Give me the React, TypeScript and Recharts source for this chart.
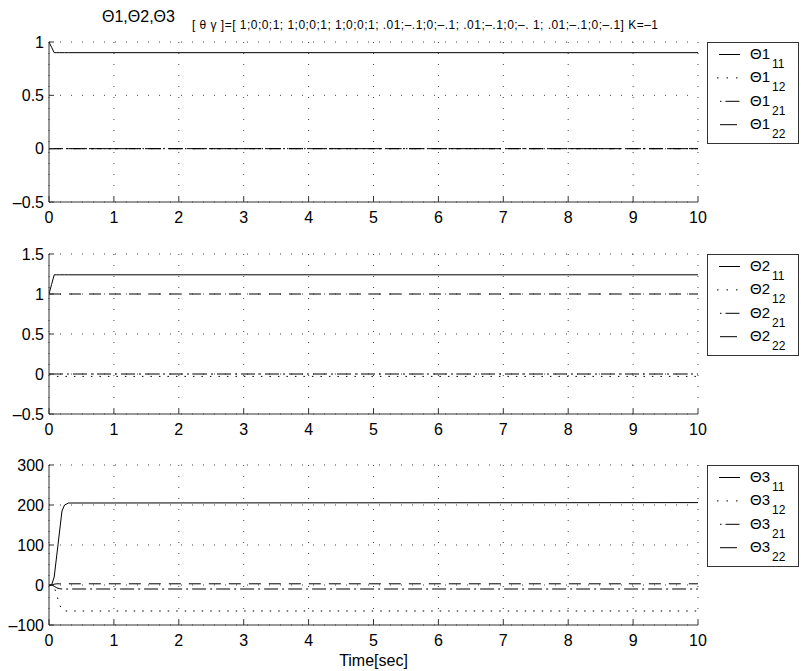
import { CartesianGrid, Legend, Line, LineChart, XAxis, YAxis } from 'recharts'

const FONT = '"Liberation Sans", Arial, sans-serif'

// sample times (s); everything is flat after the first ~0.3 s
const time = [0, 0.04, 0.08, 0.12, 0.16, 0.2, 0.24, 0.3, 10]
const xTicks = [0, 1, 2, 3, 4, 5, 6, 7, 8, 9, 10]

// Θ1
const theta1_11 = [1, 0.95, 0.9, 0.9, 0.9, 0.9, 0.9, 0.9, 0.9]
const theta1_12 = [0, 0, 0, 0, 0, 0, 0, 0, 0]
const theta1_21 = [0, 0, 0, 0, 0, 0, 0, 0, 0]
const theta1_22 = [0, 0, 0, 0, 0, 0, 0, 0, 0]
const theta1Ticks = [-0.5, 0, 0.5, 1]

// Θ2
const theta2_11 = [1, 1.12, 1.24, 1.24, 1.24, 1.24, 1.24, 1.24, 1.24]
const theta2_12 = [0, -0.02, -0.03, -0.03, -0.03, -0.03, -0.03, -0.03, -0.03]
const theta2_21 = [0, 0, 0, 0, 0, 0, 0, 0, 0]
const theta2_22 = [1, 1, 1, 1, 1, 1, 1, 1, 1]
const theta2Ticks = [-0.5, 0, 0.5, 1, 1.5]

// Θ3
const theta3_11 = [0, 0, 20, 75, 130, 185, 200, 205, 206]
const theta3_12 = [0, 0, -5, -25, -48, -62, -65, -65, -65]
const theta3_21 = [0, 0, -3, -7, -9, -10, -10, -10, -10]
const theta3_22 = [0, 0, 2, 3, 3, 3, 3, 3, 3]
const theta3Ticks = [-100, 0, 100, 200, 300]

const subKeys = ['11', '12', '21', '22']
const lineDash = [undefined, '1.5 7', '14 4 2 4', '12 8']
// legend samples: [x1, x2, dasharray]
const legendSample: [number, number, string | undefined][] = [
  [12, 33, undefined],
  [10, 32, '1.5 8'],
  [13, 33, '1.5 4 14 100'],
  [13, 30, '17 100'],
]

const fmt = (v: number) => (v < 0 ? '\u2013' + Math.abs(v) : String(v))
const blank = () => ''

function LegendBox({ name }: { name: string }) {
  return (
    <svg width={92} height={103} style={{ display: 'block', fontFamily: FONT }}>
      <rect x={0.5} y={0.5} width={91} height={101} fill="#fff" stroke="#333" />
      {subKeys.map((k, i) => {
        const [x1, x2, dash] = legendSample[i]
        const y = 12.5 + 23.4 * i
        return (
          <g key={k}>
            <line x1={x1} x2={x2} y1={y} y2={y} stroke="#000" strokeDasharray={dash} />
            <text x={43} y={16.8 + 23.4 * i} fontSize={15} fill="#000">{name}</text>
            <text x={65} y={26 + 23.4 * i} fontSize={12} fill="#000">{k}</text>
          </g>
        )
      })}
    </svg>
  )
}

function Panel({ top, name, series, domain, ticks, showTime }: {
  top: number
  name: string
  series: number[][]
  domain: [number, number]
  ticks: number[]
  showTime?: boolean
}) {
  const data = time.map((t, i) => {
    const row: Record<string, number> = { t }
    subKeys.forEach((k, j) => { row['s' + k] = series[j][i] })
    return row
  })
  const axisStroke = { stroke: '#333' }
  return (
    <div style={{ position: 'absolute', left: 0, top: top - 10 }}>
      <LineChart
        width={801}
        height={showTime ? 222 : 200}
        data={data}
        margin={{ top: 10, right: 103, bottom: showTime ? 22 : 0, left: 0 }}
      >
        <CartesianGrid stroke="#444" strokeDasharray="1 10" />
        <XAxis
          dataKey="t"
          type="number"
          domain={[0, 10]}
          ticks={xTicks}
          interval={0}
          allowDataOverflow
          height={30}
          tickSize={-5}
          tickMargin={15}
          axisLine={axisStroke}
          tickLine={axisStroke}
          tick={{ fill: '#000', fontSize: 16, fontFamily: FONT }}
          label={showTime ? { value: 'Time[sec]', position: 'bottom', offset: 0, fill: '#000', fontSize: 16, fontFamily: FONT } : undefined}
        />
        <XAxis xAxisId="top" orientation="top" type="number" domain={[0, 10]} ticks={xTicks} interval={0} height={0}
          tickSize={-5} tickFormatter={blank} axisLine={axisStroke} tickLine={axisStroke} />
        <YAxis
          type="number"
          domain={domain}
          ticks={ticks}
          interval={0}
          allowDataOverflow
          width={49}
          tickSize={-5}
          tickMargin={10}
          tickFormatter={fmt}
          axisLine={axisStroke}
          tickLine={axisStroke}
          tick={{ fill: '#000', fontSize: 16, fontFamily: FONT }}
        />
        <YAxis yAxisId="right" orientation="right" type="number" domain={domain} ticks={ticks} interval={0} width={0}
          tickSize={-5} tickFormatter={blank} axisLine={axisStroke} tickLine={axisStroke} />
        <Legend
          layout="vertical"
          align="center"
          verticalAlign="middle"
          wrapperStyle={{ left: 707, top: 10, width: 92, height: 103 }}
          content={() => <LegendBox name={name} />}
        />
        {subKeys.map((k, j) => (
          <Line
            key={k}
            dataKey={'s' + k}
            name={name + '_' + k}
            type="linear"
            stroke="#000"
            strokeWidth={1}
            strokeDasharray={lineDash[j]}
            dot={false}
            activeDot={false}
            isAnimationActive={false}
          />
        ))}
      </LineChart>
    </div>
  )
}

export default function App() {
  return (
    <div style={{ position: 'absolute', left: 0, top: 0, width: 801, height: 671, background: '#fff', fontFamily: FONT }}>
      <svg width={801} height={40} style={{ position: 'absolute', left: 0, top: 0 }}>
        <text x={102} y={22} fontSize={16} fontFamily={FONT} fill="#000">Θ1,Θ2,Θ3</text>
        <text x={192} y={29} fontSize={12} fontFamily={FONT} fill="#000" textLength={466} lengthAdjust="spacing">
          [ θ γ ]=[ 1;0;0;1; 1;0;0;1; 1;0;0;1; .01;–.1;0;–.1; .01;–.1;0;–. 1; .01;–.1;0;–.1] K=–1
        </text>
      </svg>
      <Panel top={42} name="Θ1" series={[theta1_11, theta1_12, theta1_21, theta1_22]} domain={[-0.5, 1]} ticks={theta1Ticks} />
      <Panel top={254} name="Θ2" series={[theta2_11, theta2_12, theta2_21, theta2_22]} domain={[-0.5, 1.5]} ticks={theta2Ticks} />
      <Panel top={465} name="Θ3" series={[theta3_11, theta3_12, theta3_21, theta3_22]} domain={[-100, 300]} ticks={theta3Ticks} showTime />
    </div>
  )
}
